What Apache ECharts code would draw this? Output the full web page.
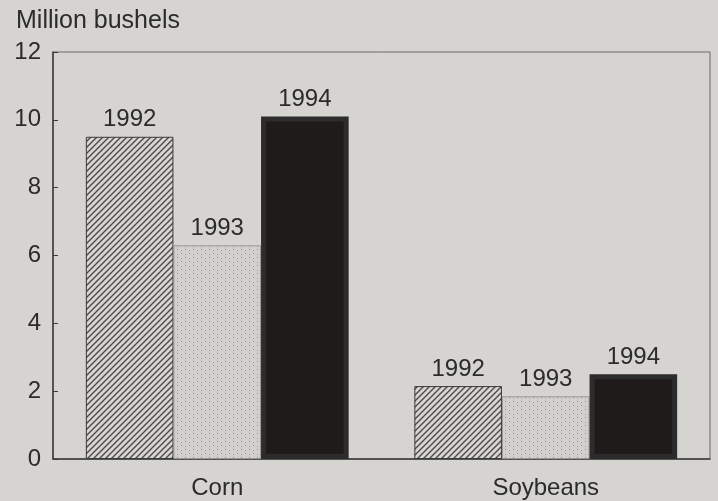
<!DOCTYPE html>
<html lang="en">
<head>
    <meta charset="UTF-8">
    <title>echarts</title>
    <script src="https://cdn.jsdelivr.net/npm/echarts@6/dist/echarts.min.js"></script>
    <style>
        html, body { margin: 0; padding: 0; background: #d6d4d0; }
        #myChart { width: 718px; height: 501px; }
    </style>
</head>
<body>
<div id="myChart"></div>
<script type="text/javascript">
    var categories = ["Corn", "Soybeans"];
    var years = ["1992", "1993", "1994"];
    var values1992 = [9.5, 2.15];
    var values1993 = [6.3, 1.85];
    var values1994 = [10.1, 2.5];
    var yTicks = [0, 2, 4, 6, 8, 10, 12];

    // hatch pattern for 1992
    function hatchPattern() {
        var c = document.createElement("canvas");
        c.width = 6; c.height = 6;
        var ctx = c.getContext("2d");
        ctx.fillStyle = "#d8d6d2";
        ctx.fillRect(0, 0, 6, 6);
        ctx.strokeStyle = "#4a4a4a";
        ctx.lineWidth = 1.4;
        ctx.beginPath();
        ctx.moveTo(-1, 7); ctx.lineTo(7, -1);
        ctx.moveTo(-4, 4); ctx.lineTo(4, -4);
        ctx.moveTo(2, 10); ctx.lineTo(10, 2);
        ctx.stroke();
        return c;
    }

    // stipple pattern for 1993
    function dotPattern() {
        var c = document.createElement("canvas");
        c.width = 8; c.height = 8;
        var ctx = c.getContext("2d");
        ctx.fillStyle = "#d2d0cc";
        ctx.fillRect(0, 0, 8, 8);
        ctx.fillStyle = "#8e8c8a";
        ctx.fillRect(1, 1, 1, 1);
        ctx.fillRect(5, 5, 1, 1);
        ctx.fillStyle = "#a8a6a3";
        ctx.fillRect(5, 2, 1, 1);
        ctx.fillRect(1, 6, 1, 1);
        return c;
    }

    var labelStyle = {
        show: true,
        position: "top",
        distance: 5,
        fontSize: 24,
        fontFamily: "Liberation Sans",
        color: "#2b2b2b"
    };

    function makeSeries(name, data, itemStyle) {
        return {
            name: name,
            type: "bar",
            data: data,
            barGap: "0%",
            barCategoryGap: "20%",
            itemStyle: itemStyle,
            label: Object.assign({}, labelStyle, {formatter: name})
        };
    }

    var myChart = echarts.init(document.getElementById("myChart"));
    var option = {
        backgroundColor: "#d6d4d0",
        animation: false,
        textStyle: {fontFamily: "Liberation Sans"},
        title: {
            text: "Million bushels",
            left: 11,
            top: 4,
            textStyle: {fontSize: 25, fontWeight: "normal", color: "#2b2b2b", fontFamily: "Liberation Sans"}
        },
        grid: {
            left: 53, right: 8, top: 52, bottom: 42,
            show: true,
            borderColor: "#6a6a6a",
            borderWidth: 1
        },
        xAxis: {
            type: "category",
            data: categories,
            axisTick: {show: false},
            axisLine: {lineStyle: {color: "#3a3a3a", width: 1.5}},
            axisLabel: {fontSize: 24, color: "#2b2b2b", margin: 17}
        },
        yAxis: {
            type: "value",
            min: yTicks[0],
            max: yTicks[yTicks.length - 1],
            interval: 2,
            splitLine: {show: false},
            axisLine: {show: true, lineStyle: {color: "#3a3a3a", width: 1.5}},
            axisTick: {show: true, inside: true, length: 5, lineStyle: {color: "#3a3a3a"}},
            axisLabel: {fontSize: 24, color: "#2b2b2b", margin: 12}
        },
        series: [
            makeSeries(years[0], values1992, {
                color: {image: hatchPattern(), repeat: "repeat"},
                borderColor: "#3a3a3a", borderWidth: 1
            }),
            makeSeries(years[1], values1993, {
                color: {image: dotPattern(), repeat: "repeat"},
                borderColor: "#9a9896", borderWidth: 1
            }),
            makeSeries(years[2], values1994, {
                color: "#201b1b",
                borderColor: "#2c2c2c", borderWidth: 5
            })
        ]
    };
    myChart.setOption(option);
</script>
</body>
</html>
